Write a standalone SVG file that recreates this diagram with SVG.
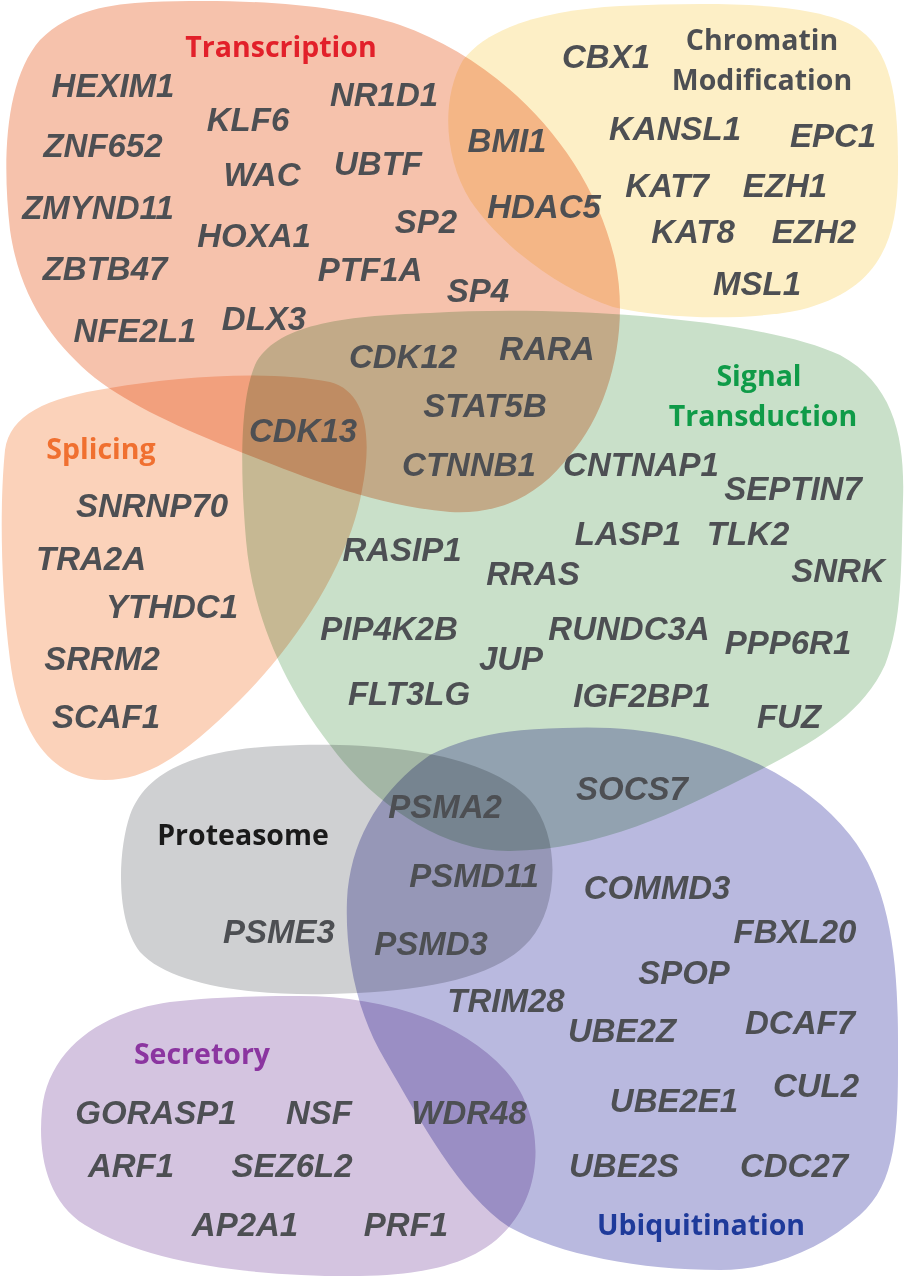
<svg xmlns="http://www.w3.org/2000/svg" width="907" height="1280" viewBox="0 0 907 1280">
<style>
.blob{mix-blend-mode:multiply;stroke:none}
.g{font-family:"Liberation Sans",Arial,sans-serif;font-weight:bold;font-style:italic;font-size:33px;fill:#4d4f53;text-anchor:middle}
.c{font-family:"Open Sans","Liberation Sans",sans-serif;font-weight:bold;font-size:28.5px;text-anchor:middle}
</style>
<rect width="907" height="1280" fill="#ffffff"/>
<g id="sets">
<g id="transcription"><path class="blob" fill="#f6c2ac" d="M150,2 C250,-2 340,5 400,25 C500,60 590,150 615,260 C630,330 610,410 570,455 C540,495 500,515 450,512 C370,505 300,475 243,453 C180,428 130,405 95,378 C55,345 20,300 10,230 C2,160 5,80 40,40 C70,10 110,4 150,2 Z"/></g>
<g id="chromatin"><path class="blob" fill="#fdefc6" d="M620,6 C720,2 820,2 860,30 C895,55 898,110 898,170 C898,240 880,290 800,310 C740,322 660,318 613,307 C560,290 500,245 470,200 C445,160 440,100 463,60 C490,25 550,10 620,6 Z"/></g>
<g id="splicing"><path class="blob" fill="#fbd2ba" d="M110,388 C180,376 270,370 330,382 C368,392 372,440 362,490 C350,560 300,640 240,700 C190,750 150,780 105,780 C55,780 20,740 10,660 C0,580 0,500 5,450 C10,415 45,398 110,388 Z"/></g>
<g id="signal"><path class="blob" fill="#c9e0c9" d="M430,313 C560,305 760,318 840,355 C895,385 905,440 903,500 C901,560 903,620 885,665 C860,720 800,750 740,780 C680,810 600,850 510,851 C440,852 370,800 330,745 C280,680 252,610 246,540 C240,470 240,400 255,365 C275,325 340,316 430,313 Z"/></g>
<g id="proteasome"><path class="blob" fill="#cfd0d2" d="M300,745 C400,743 490,757 530,800 C560,835 560,905 530,940 C495,980 420,992 330,994 C250,996 170,985 140,952 C115,920 118,850 130,815 C150,760 220,747 300,745 Z"/></g>
<g id="ubiquitination"><path class="blob" fill="#b9b9df" d="M563,728 C680,722 790,760 850,835 C890,885 898,960 898,1040 C898,1120 900,1180 860,1215 C820,1250 770,1270 720,1270 C640,1270 560,1255 509,1227 C460,1195 420,1120 385,1060 C355,1010 345,950 347,900 C350,840 380,790 430,755 C470,735 510,729 563,728 Z"/></g>
<g id="secretory"><path class="blob" fill="#d4c4e0" d="M300,996 C380,996 460,1020 505,1070 C545,1115 545,1185 509,1227 C480,1262 430,1275 360,1276 C260,1277 150,1265 85,1225 C45,1200 38,1150 42,1110 C48,1050 100,1012 170,1002 C210,997 255,996 300,996 Z"/></g>
</g>
<g id="labels">
<text class="c" x="281" y="57" fill="#e2202a">Transcription</text>
<text class="c" x="762" y="50" fill="#4d4f53">Chromatin</text>
<text class="c" x="762" y="90" fill="#4d4f53">Modification</text>
<text class="c" x="759" y="386" fill="#0f9b48">Signal</text>
<text class="c" x="763" y="426" fill="#0f9b48">Transduction</text>
<text class="c" x="101" y="459" fill="#f07030">Splicing</text>
<text class="c" x="243" y="845" fill="#1a1a1a">Proteasome</text>
<text class="c" x="202" y="1064" fill="#8b35a0">Secretory</text>
<text class="c" x="701" y="1235" fill="#1e3a9a">Ubiquitination</text>
</g>
<g id="genes">
<text class="g" x="113" y="97">HEXIM1</text>
<text class="g" x="384" y="106">NR1D1</text>
<text class="g" x="248" y="131">KLF6</text>
<text class="g" x="103" y="157">ZNF652</text>
<text class="g" x="378" y="175">UBTF</text>
<text class="g" x="262" y="186">WAC</text>
<text class="g" x="98" y="219">ZMYND11</text>
<text class="g" x="254" y="247">HOXA1</text>
<text class="g" x="426" y="233">SP2</text>
<text class="g" x="105" y="280">ZBTB47</text>
<text class="g" x="370" y="281">PTF1A</text>
<text class="g" x="478" y="302">SP4</text>
<text class="g" x="135" y="342">NFE2L1</text>
<text class="g" x="264" y="330">DLX3</text>
<text class="g" x="507" y="152">BMI1</text>
<text class="g" x="544" y="218">HDAC5</text>
<text class="g" x="606" y="68">CBX1</text>
<text class="g" x="675" y="140">KANSL1</text>
<text class="g" x="833" y="147">EPC1</text>
<text class="g" x="667" y="197">KAT7</text>
<text class="g" x="785" y="197">EZH1</text>
<text class="g" x="693" y="243">KAT8</text>
<text class="g" x="814" y="243">EZH2</text>
<text class="g" x="757" y="295">MSL1</text>
<text class="g" x="403" y="368">CDK12</text>
<text class="g" x="547" y="360">RARA</text>
<text class="g" x="485" y="417">STAT5B</text>
<text class="g" x="303" y="442">CDK13</text>
<text class="g" x="469" y="476">CTNNB1</text>
<text class="g" x="152" y="517">SNRNP70</text>
<text class="g" x="91" y="570">TRA2A</text>
<text class="g" x="172" y="618">YTHDC1</text>
<text class="g" x="102" y="670">SRRM2</text>
<text class="g" x="106" y="728">SCAF1</text>
<text class="g" x="402" y="561">RASIP1</text>
<text class="g" x="389" y="640">PIP4K2B</text>
<text class="g" x="409" y="705">FLT3LG</text>
<text class="g" x="641" y="476">CNTNAP1</text>
<text class="g" x="793" y="500">SEPTIN7</text>
<text class="g" x="628" y="545">LASP1</text>
<text class="g" x="748" y="545">TLK2</text>
<text class="g" x="533" y="585">RRAS</text>
<text class="g" x="838" y="582">SNRK</text>
<text class="g" x="629" y="640">RUNDC3A</text>
<text class="g" x="788" y="654">PPP6R1</text>
<text class="g" x="511" y="670">JUP</text>
<text class="g" x="642" y="707">IGF2BP1</text>
<text class="g" x="789" y="728">FUZ</text>
<text class="g" x="632" y="800">SOCS7</text>
<text class="g" x="445" y="818">PSMA2</text>
<text class="g" x="474" y="887">PSMD11</text>
<text class="g" x="279" y="943">PSME3</text>
<text class="g" x="431" y="955">PSMD3</text>
<text class="g" x="506" y="1012">TRIM28</text>
<text class="g" x="657" y="899">COMMD3</text>
<text class="g" x="795" y="943">FBXL20</text>
<text class="g" x="684" y="984">SPOP</text>
<text class="g" x="622" y="1042">UBE2Z</text>
<text class="g" x="800" y="1034">DCAF7</text>
<text class="g" x="816" y="1097">CUL2</text>
<text class="g" x="674" y="1112">UBE2E1</text>
<text class="g" x="624" y="1177">UBE2S</text>
<text class="g" x="794" y="1177">CDC27</text>
<text class="g" x="156" y="1124">GORASP1</text>
<text class="g" x="319" y="1124">NSF</text>
<text class="g" x="469" y="1124">WDR48</text>
<text class="g" x="131" y="1177">ARF1</text>
<text class="g" x="292" y="1177">SEZ6L2</text>
<text class="g" x="245" y="1236">AP2A1</text>
<text class="g" x="406" y="1236">PRF1</text>
</g>
</svg>
